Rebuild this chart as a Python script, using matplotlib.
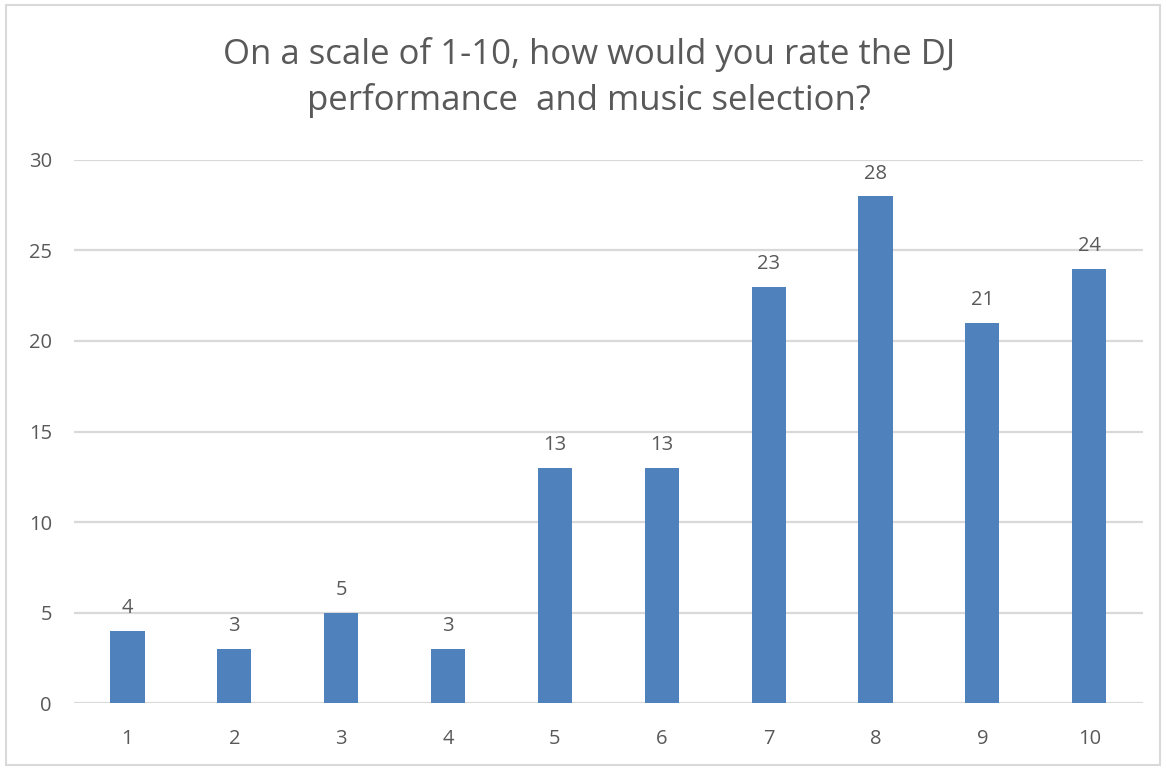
import matplotlib
matplotlib.use("Agg")
import matplotlib.pyplot as plt
from matplotlib.patches import Rectangle

# survey answers: rating -> number of responses
ratings = ["1", "2", "3", "4", "5", "6", "7", "8", "9", "10"]
responses = [4, 3, 5, 3, 13, 13, 23, 28, 21, 24]
y_ticks = [0, 5, 10, 15, 20, 25, 30]

TEXT = "#595959"
GRID = "#d9d9d9"
BAR = "#4f81bd"

plt.rcParams["font.family"] = ["Open Sans", "DejaVu Sans"]

fig = plt.figure(figsize=(11.66, 7.68), dpi=100)
ax = fig.add_axes([0.0635, 0.0846, 0.9165, 0.7071])

x = list(range(1, len(ratings) + 1))
ax.bar(x, responses, width=0.32, color=BAR, zorder=3)
for xi, v in zip(x, responses):
    ax.annotate(str(v), (xi, v), xytext=(0, 9), textcoords="offset points",
                ha="center", va="bottom", fontsize=14.5, color=TEXT)

ax.set_xlim(0.5, len(ratings) + 0.5)
ax.set_ylim(0, 30)
ax.set_xticks(x)
ax.set_xticklabels(ratings)
ax.set_yticks(y_ticks)
ax.tick_params(axis="both", length=0, labelsize=14.5, labelcolor=TEXT)
ax.tick_params(axis="x", pad=19)
ax.tick_params(axis="y", pad=16)
ax.yaxis.grid(True, color=GRID, linewidth=1.6, zorder=0)
for s in ax.spines.values():
    s.set_visible(False)

fig.text(0.505, 0.899, "On a scale of 1-10, how would you rate the DJ\nperformance  and music selection?",
         ha="center", va="center", fontsize=25, color=TEXT, linespacing=1.4)

fig.patches.append(Rectangle((0.005, 0.004), 0.99, 0.99, transform=fig.transFigure,
                             fill=False, edgecolor=GRID, linewidth=1.5))

fig.savefig("out.png", dpi=100)
